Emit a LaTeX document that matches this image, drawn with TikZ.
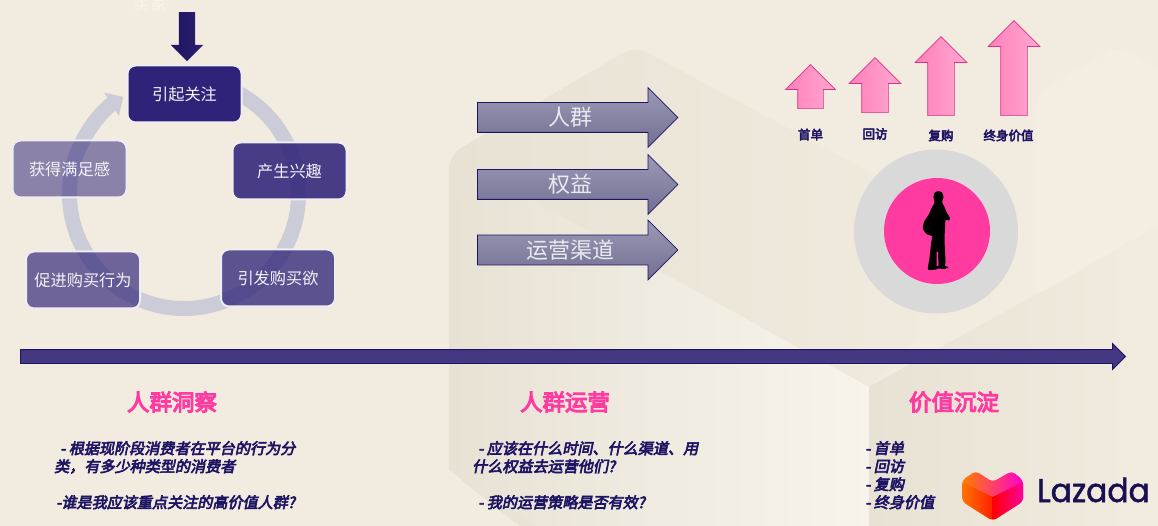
\documentclass[tikz,border=0pt]{standalone}
\usepackage{fontspec}
\setmainfont{Noto Sans CJK SC}
\newfontfamily\headfont[FakeBold=5]{Noto Sans CJK SC}
\newfontfamily\notefont[FakeBold=4,FakeSlant=0.2]{Noto Sans CJK SC}
\newfontfamily\labelfont[FakeBold=4]{Noto Sans CJK SC}
\newfontfamily\logofont[FakeBold=1.5,FakeStretch=.95]{Poppins}
\usetikzlibrary{shapes.arrows,arrows.meta}

\definecolor{paper}{HTML}{F2EBDF}
\definecolor{paperdark}{HTML}{E8E2D5}
\definecolor{paperlight}{HTML}{F8F4EB}
\definecolor{navy}{HTML}{2E2378}
\definecolor{deepnavy}{HTML}{1E1464}
\definecolor{ringgray}{HTML}{CBCCD7}
\definecolor{rosepink}{HTML}{FF3AA0}
\definecolor{steeltop}{HTML}{9C9AB6}
\definecolor{steelbottom}{HTML}{716E91}
\definecolor{pinktop}{HTML}{FFA8D0}
\definecolor{pinkbottom}{HTML}{FF80BA}
\definecolor{timeband}{HTML}{433881}

\begin{document}
\begin{tikzpicture}[
    x=1pt, y=-1pt,
    stagebox/.style={draw=white!92!navy, line width=2pt, rounded corners=8pt,
                     fill=navy, text=white!94!navy, text opacity=1, draw opacity=1,
                     minimum width=114pt, minimum height=57pt, inner sep=0pt,
                     font=\fontsize{16.2}{18}\selectfont},
    grayarrow/.style={single arrow, anchor=west, draw=deepnavy, line width=.8pt,
                      top color=steeltop, bottom color=steelbottom,
                      inner sep=0pt, text height=22.5pt, text depth=6.5pt, minimum height=200.5pt,
                      single arrow head extend=15pt, single arrow head indent=0pt,
                      text=white!90!navy, font=\fontsize{22}{24}\selectfont},
    pinkarrow/.style={single arrow, anchor=west, rotate=90, draw=rosepink!85!black, line width=.7pt,
                      left color=pinkbottom, right color=pinktop,
                      inner sep=0pt, text height=26pt, text depth=0pt,
                      single arrow head extend=12.5pt, single arrow head indent=0pt},
    barlabel/.style={text=deepnavy, inner sep=0pt, font=\labelfont\fontsize{12.5}{14}\selectfont},
    phasehead/.style={text=rosepink, inner sep=0pt, font=\headfont\fontsize{22.5}{25}\selectfont},
    phasenote/.style={anchor=north west, align=left, text=deepnavy, inner sep=0pt,
                      font=\notefont\fontsize{15.1}{18}\selectfont},
]

\clip [use as bounding box] (0,0) rectangle (1158,526);
\fill [paper] (0,0) rectangle (1158,526);

\shade [left color=paperdark, right color=paper, rounded corners=14pt]
    (537,540) -- (449,470) -- (449,155) -- (635,46) -- (862,168) -- (1000,250)
    -- (869,387) -- (869,540) -- cycle;
\shade [left color=paperdark, right color=paperlight]
    (449,200) -- (532,200) -- (869,387) -- (869,526) -- (537,526) -- (449,470) -- cycle;
\shade [left color=paperdark, right color=paper]
    (869,387) -- (1158,227) -- (1158,526) -- (869,526) -- cycle;
\fill [paperlight, opacity=.3, rounded corners=10pt]
    (1036,95) -- (1117,46) -- (1175,80) -- (1175,215) -- (1036,296) -- cycle;

\node [text=paperlight, font=\fontsize{17}{19}\selectfont] (buyer) at (150,4) {买家};
\node [single arrow, anchor=west, rotate=-90, draw=none, left color=deepnavy, right color=navy!90!black,
       inner sep=0pt, text height=16pt, text depth=0pt, minimum height=49pt, single arrow head extend=8pt,
       single arrow head indent=0pt] (entry) at (187,12) {};

\draw [ringgray, line width=15pt, -{Triangle[width=27pt,length=14pt]}]
    (184,194) ++(65:114.5pt) arc [start angle=65, end angle=-238, radius=114.5pt];

\node [stagebox] (attract) at (184.5,94) {引起关注};
\node [stagebox, fill opacity=.87] (interest) at (289.5,171) {产生兴趣};
\node [stagebox, fill opacity=.76] (desire) at (278,278) {引发购买欲};
\node [stagebox, fill opacity=.67] (action) at (83,280) {促进购买行为};
\node [stagebox, fill opacity=.52] (reward) at (69.5,169) {获得满足感};

\node [grayarrow] (crowd) at (477,117.5) {人群};
\node [grayarrow] (benefit) at (477,184.5) {权益};
\node [grayarrow] (channel) at (477,250) {运营渠道};

\node [pinkarrow, text height=25pt, minimum height=44pt, single arrow head extend=12pt] (first) at (810.5,109) {};
\node [pinkarrow, minimum height=55pt] (back) at (875,113) {};
\node [pinkarrow, minimum height=79pt] (again) at (941,116) {};
\node [pinkarrow, minimum height=95pt] (lifetime) at (1014,116) {};

\node [barlabel] (firstlabel) at (810.5,134.5) {首单};
\node [barlabel] (backlabel) at (875,134) {回访};
\node [barlabel] (againlabel) at (941,135.5) {复购};
\node [barlabel] (lifetimelabel) at (1008.5,135.5) {终身价值};

\node [circle, fill=black!15, minimum size=164pt, inner sep=0pt] (halo) at (936,231.5) {};
\node [circle, fill=rosepink, minimum size=106pt, inner sep=0pt] (core) at (937,231) {};
\fill [black] plot [smooth cycle, tension=.35] coordinates {
    (938,191) (942,192.5) (943.5,197) (942,202) (944,206) (947,213) (950,218) (949,220.5) (945.5,220)
    (945,228) (944.5,238) (945,252) (945.5,262) (945,266) (948.5,267) (945,269) (938,268.5) (936,269.5)
    (928,269.5) (929.5,258) (931,244) (932,236) (927,234.5) (923,229) (924,222) (929,214) (932,207) (934.5,203) (933.5,197) (934.5,193)
};
\fill [rosepink] (936.5,252) -- (938,252) -- (938.5,266) -- (936.5,266) -- cycle;

\node [single arrow, anchor=west, draw=deepnavy, line width=.8pt, fill=timeband,
       inner sep=0pt, text height=13pt, text depth=0pt, minimum height=1105pt, single arrow head extend=6pt,
       single arrow head indent=0pt] (timeline) at (20,356.5) {};

\node [phasehead] (insight) at (172,402) {人群洞察};
\node [phasehead] (operate) at (565,402) {人群运营};
\node [phasehead] (settle) at (954,402) {价值沉淀};

\node [phasenote] (insightnote) at (54,441) {\hspace*{6pt}- 根据现阶段消费者在平台的行为分\\类，有多少种类型的消费者\\[18pt]\hspace*{2pt}-谁是我应该重点关注的高价值人群?};
\node [phasenote] (operatenote) at (472,441) {\hspace*{6pt}- 应该在什么时间、什么渠道、用\\什么权益去运营他们?\\[18pt]\hspace*{6pt}- 我的运营策略是否有效?};
\node [phasenote] (settlenote) at (865,441) {- 首单\\- 回访\\- 复购\\- 终身价值};

\begin{scope}
    \clip [rounded corners=4pt] (962.3,480) -- (975.7,471) -- (992.7,482) -- (1011.7,471) -- (1023,480)
        -- (1023,501.7) -- (992.7,521) -- (962.3,501.7) -- cycle;
    \shade [left color=orange, right color=magenta!80!red] (962,470) rectangle (1023,500);
    \shade [left color=orange!90!red, right color=red!75!orange]
        (962,482) -- (992.7,497) -- (992.7,522) -- (962,502) -- cycle;
    \shade [left color=red!95!purple, right color=magenta!60!red]
        (992.7,497) -- (1023,482) -- (1023,502) -- (992.7,522) -- cycle;
\end{scope}
\node [anchor=base west, inner sep=0pt, text=deepnavy!80!black, font=\logofont\fontsize{33}{36}\selectfont] (brand) at (1037,502) {Lazada};

\end{tikzpicture}
\end{document}
